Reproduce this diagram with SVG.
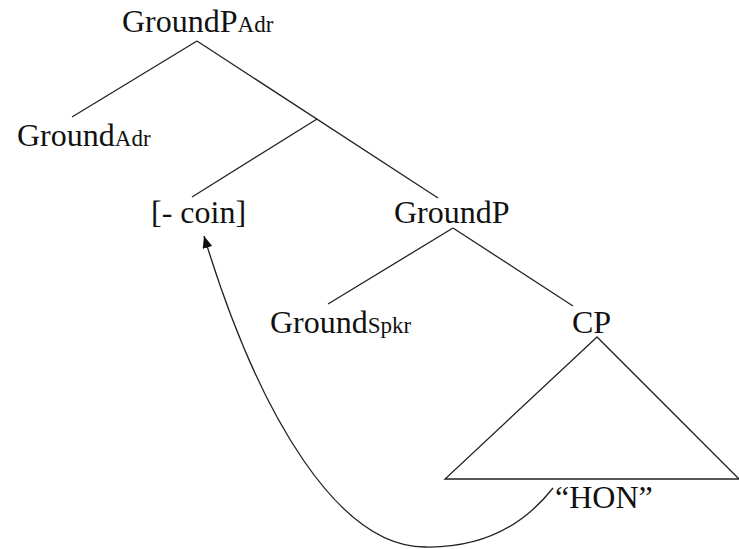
<svg xmlns="http://www.w3.org/2000/svg" width="739" height="549" viewBox="0 0 739 549">
<style>
.m{font-size:32px;}
.s{font-size:23px;}
.e{fill:none;stroke:#222;stroke-width:1.3;}
</style>
<defs>
<marker id="ah" viewBox="0 0 12 10" refX="12" refY="5" markerWidth="12" markerHeight="10" markerUnits="userSpaceOnUse" orient="auto">
<path d="M0,0 L12,5 L0,10 Z" fill="#111"/>
</marker>
</defs>
<rect width="739" height="549" fill="#fff"/>
<g id="connectors">
<line class="e" x1="197" y1="41" x2="72" y2="117"/>
<line class="e" x1="197" y1="41" x2="438" y2="198"/>
<line class="e" x1="317" y1="119" x2="192" y2="197"/>
<line class="e" x1="453" y1="228" x2="328" y2="304"/>
<line class="e" x1="453" y1="228" x2="573" y2="306"/>
<polygon class="e" points="597,337 445,479 739,479"/>
<path class="e" d="M553,488 C520,530 475,548 425,547 C340,547 260,420 204,236" marker-end="url(#ah)"/>
</g>
<g font-family="'Liberation Serif', 'Times New Roman', 'DejaVu Serif', serif" fill="#111">
<g id="groundp-adr"><text x="122" y="32"><tspan class="m">GroundP</tspan><tspan class="s">Adr</tspan></text></g>
<g id="ground-adr"><text x="17" y="146"><tspan class="m">Ground</tspan><tspan class="s">Adr</tspan></text></g>
<g id="coin"><text class="m" x="151" y="223">[- coin]</text></g>
<g id="groundp"><text class="m" x="394" y="223">GroundP</text></g>
<g id="ground-spkr"><text x="270" y="333"><tspan class="m">Ground</tspan><tspan class="s">Spkr</tspan></text></g>
<g id="cp"><text class="m" x="572" y="333">CP</text></g>
<g id="hon"><text class="m" x="555" y="508">“HON”</text></g>
</g>
</svg>
